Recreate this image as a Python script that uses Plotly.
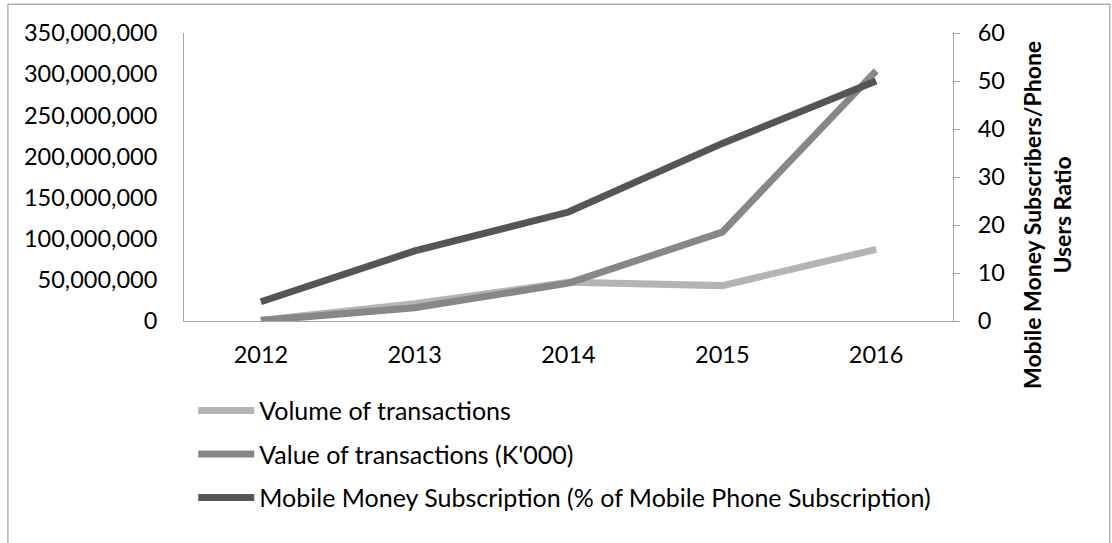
import plotly.graph_objects as go

years = ["2012", "2013", "2014", "2015", "2016"]
volume = [1_000_000, 21_000_000, 47_000_000, 43_000_000, 87_000_000]
value_k = [500_000, 16_000_000, 46_000_000, 108_000_000, 304_000_000]
mm_ratio = [4.0, 14.6, 22.7, 37.0, 50.0]

left_ticks = [0, 50_000_000, 100_000_000, 150_000_000, 200_000_000, 250_000_000, 300_000_000, 350_000_000]
left_labels = ["0", "50,000,000", "100,000,000", "150,000,000", "200,000,000", "250,000,000", "300,000,000", "350,000,000"]
right_ticks = [0, 10, 20, 30, 40, 50, 60]

FONT = "Lato"
FS = 23.5

fig = go.Figure()
fig.add_trace(go.Scatter(x=years, y=volume, mode="lines", name="Volume of transactions",
                         legendgroup="a", line=dict(color="#b4b4b4", width=7)))
fig.add_trace(go.Scatter(x=years, y=value_k, mode="lines", name="Value of transactions (K'000)",
                         legendgroup="b", line=dict(color="#878787", width=7)))
fig.add_trace(go.Scatter(x=years, y=mm_ratio, mode="lines", yaxis="y2", legendgroup="c",
                         name="Mobile Money Subscription (% of Mobile Phone Subscription)",
                         line=dict(color="#555555", width=7)))

fig.update_layout(
    width=1112, height=543,
    margin=dict(l=184, r=159, t=33, b=222),
    paper_bgcolor="white", plot_bgcolor="white",
    font=dict(family=FONT, size=FS, color="#000000"),
    showlegend=True,
    legend=dict(x=0.012, y=-0.232, xanchor="left", yanchor="top", orientation="v",
                font=dict(family=FONT, size=25, color="#000000"),
                bgcolor="rgba(0,0,0,0)", tracegroupgap=8, itemwidth=56),
    xaxis=dict(type="category", showgrid=False, showline=True, linecolor="#a6a6a6", linewidth=1,
               ticks="", ticklabelstandoff=13, zeroline=False,
               range=[-0.5, 4.5]),
    yaxis=dict(range=[0, 350_000_000], tickvals=left_ticks, ticktext=left_labels,
               showgrid=False, showline=True, linecolor="#a6a6a6", linewidth=1,
               ticks="", ticklabelstandoff=21, zeroline=False),
    yaxis2=dict(range=[0, 60], tickvals=right_ticks, overlaying="y", side="right",
                showgrid=False, showline=True, linecolor="#a6a6a6", linewidth=1,
                ticks="outside", ticklen=6, tickcolor="#a6a6a6", ticklabelstandoff=13,
                zeroline=False),
    annotations=[dict(text="<b>Mobile Money Subscribers/Phone<br>Users Ratio</b>",
                      xref="paper", yref="paper", x=1.1222, y=0.368,
                      xanchor="center", yanchor="middle", textangle=-90, showarrow=False,
                      font=dict(family=FONT, size=23, color="#000000"))],
    shapes=[dict(type="rect", xref="paper", yref="paper",
                 x0=-0.229, x1=1.204, y0=-0.78, y1=1.10,
                 line=dict(color="#8c8c8c", width=1), fillcolor="rgba(0,0,0,0)", layer="below")],
)

fig.write_html("out.html")
